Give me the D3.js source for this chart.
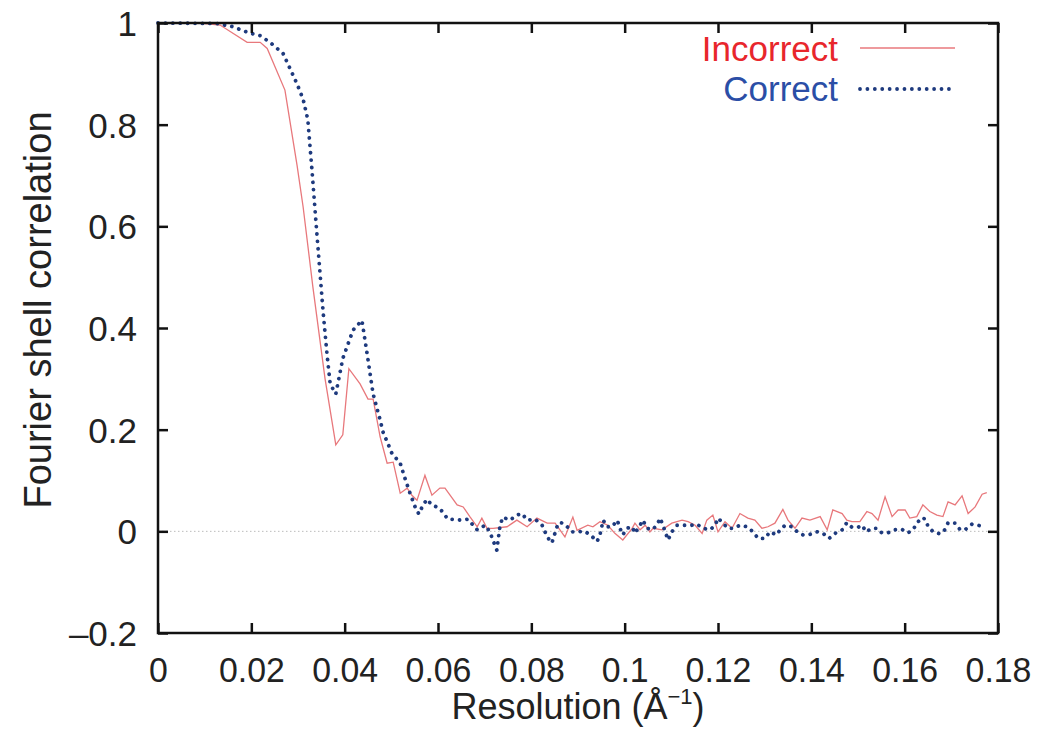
<!DOCTYPE html>
<html><head><meta charset="utf-8">
<script src="https://cdn.jsdelivr.net/npm/d3@7"></script>
<style>
body{margin:0;background:#fff;}
text{font-family:"Liberation Sans", Arial, Helvetica, sans-serif;}
</style>
</head><body>
<svg id="chart" width="1050" height="735"></svg>
<script>
const seriesNames = ["Incorrect", "Correct"];
const xTicks = [0, 0.02, 0.04, 0.06, 0.08, 0.1, 0.12, 0.14, 0.16, 0.18];
const yTicks = [-0.2, 0, 0.2, 0.4, 0.6, 0.8, 1];

const incorrectX = [0, 0.009, 0.0133, 0.0191, 0.0219, 0.0234, 0.0272, 0.0298, 0.0311, 0.0332, 0.0358, 0.0381, 0.0396, 0.0409, 0.0433, 0.045, 0.0461, 0.0476, 0.0491, 0.0504, 0.0519, 0.0534, 0.0544, 0.0555, 0.0572, 0.0587, 0.0604, 0.0615, 0.0641, 0.0654, 0.0669, 0.0684, 0.0694, 0.0705, 0.0718, 0.0748, 0.0769, 0.0791, 0.0812, 0.0834, 0.0851, 0.0872, 0.0889, 0.0898, 0.0921, 0.0932, 0.0947, 0.0964, 0.0979, 0.0996, 0.1016, 0.1022, 0.1033, 0.1044, 0.1054, 0.1061, 0.108, 0.1101, 0.1123, 0.1136, 0.1151, 0.1166, 0.1176, 0.1189, 0.12, 0.1215, 0.123, 0.1247, 0.1264, 0.1279, 0.1294, 0.1307, 0.1322, 0.1339, 0.135, 0.1365, 0.138, 0.1397, 0.1419, 0.1434, 0.1446, 0.1466, 0.1476, 0.1487, 0.1504, 0.1519, 0.153, 0.1543, 0.1558, 0.1573, 0.1586, 0.1601, 0.1611, 0.1626, 0.1639, 0.1654, 0.1669, 0.1682, 0.1693, 0.1708, 0.1723, 0.1736, 0.1751, 0.1766, 0.1776];
const incorrectY = [1.0, 1.0, 0.996, 0.962, 0.962, 0.95, 0.868, 0.72, 0.638, 0.48, 0.30, 0.17, 0.19, 0.32, 0.29, 0.26, 0.26, 0.186, 0.134, 0.136, 0.075, 0.085, 0.071, 0.061, 0.11, 0.071, 0.085, 0.085, 0.052, 0.048, 0.028, 0.009, 0.026, 0.006, 0.006, 0.009, 0.022, 0.009, 0.026, 0.016, 0.016, -0.011, 0.028, 0.002, 0.012, 0.009, 0.019, 0.012, -0.004, -0.017, 0.006, 0.016, 0.003, 0.012, -0.001, 0.006, 0.003, 0.016, 0.022, 0.019, 0.012, -0.004, 0.022, 0.032, -0.001, 0.019, 0.006, 0.035, 0.026, 0.022, 0.006, 0.009, 0.016, 0.043, 0.022, 0.006, 0.026, 0.022, 0.029, 0.003, 0.042, 0.035, 0.022, 0.019, 0.019, 0.039, 0.035, 0.022, 0.068, 0.029, 0.042, 0.042, 0.026, 0.029, 0.052, 0.039, 0.032, 0.029, 0.058, 0.052, 0.07, 0.035, 0.048, 0.073, 0.076];

const correctX = [0, 0.0126, 0.0159, 0.0197, 0.0219, 0.024, 0.0268, 0.0298, 0.0311, 0.0321, 0.033, 0.0341, 0.0354, 0.0362, 0.0369, 0.0381, 0.0396, 0.0418, 0.0437, 0.0448, 0.0461, 0.0476, 0.0482, 0.0501, 0.0519, 0.0529, 0.054, 0.0551, 0.0559, 0.0566, 0.0576, 0.0587, 0.0604, 0.0621, 0.0651, 0.0664, 0.0684, 0.0701, 0.0711, 0.0726, 0.0733, 0.0739, 0.0754, 0.0769, 0.078, 0.0791, 0.0808, 0.0823, 0.0834, 0.0844, 0.0855, 0.0861, 0.0872, 0.0887, 0.0898, 0.0915, 0.093, 0.0941, 0.0947, 0.0954, 0.0962, 0.0973, 0.0984, 0.099, 0.0996, 0.1005, 0.1016, 0.1022, 0.1033, 0.1039, 0.1048, 0.1059, 0.1069, 0.1076, 0.1082, 0.1093, 0.1101, 0.1112, 0.1129, 0.1144, 0.1155, 0.1168, 0.1183, 0.1194, 0.12, 0.1211, 0.1221, 0.1232, 0.1247, 0.1262, 0.1275, 0.1286, 0.1301, 0.1311, 0.1326, 0.1333, 0.1344, 0.1359, 0.137, 0.1382, 0.1397, 0.1412, 0.1425, 0.1438, 0.1451, 0.1466, 0.1476, 0.1487, 0.15, 0.1509, 0.1517, 0.153, 0.1541, 0.1551, 0.1564, 0.1579, 0.1594, 0.1607, 0.1618, 0.1626, 0.1637, 0.1644, 0.165, 0.1661, 0.1676, 0.1686, 0.1693, 0.1708, 0.1719, 0.1729, 0.1744, 0.1757, 0.1772];
const correctY = [1.0, 0.999, 0.993, 0.98, 0.975, 0.962, 0.94, 0.88, 0.85, 0.81, 0.71, 0.579, 0.43, 0.35, 0.29, 0.27, 0.34, 0.396, 0.415, 0.35, 0.27, 0.219, 0.196, 0.154, 0.134, 0.105, 0.075, 0.048, 0.034, 0.048, 0.063, 0.052, 0.045, 0.024, 0.022, 0.024, 0.003, 0.012, -0.001, -0.037, 0.012, 0.028, 0.022, 0.032, 0.035, 0.022, 0.024, 0.012, -0.011, -0.023, 0.009, 0.018, 0.014, -0.001, -0.001, 0, -0.01, -0.02, -0.007, 0.022, 0.009, 0.009, 0.022, 0.006, -0.007, 0.006, 0.009, -0.004, 0.012, 0.022, 0.006, 0.003, 0.012, 0.026, 0.012, -0.017, -0.001, 0.012, 0.012, 0.012, 0.014, 0.006, 0.003, 0.012, 0.026, 0.016, 0.006, 0.006, 0.012, 0.009, -0.001, -0.014, -0.014, -0.001, -0.007, 0.003, 0.012, 0.009, -0.001, -0.007, -0.006, -0.001, -0.004, -0.014, -0.004, 0.003, 0.017, 0.008, 0.008, 0.012, -0.001, 0.006, 0.006, -0.003, -0.003, 0.003, 0.004, -0.003, 0.003, 0.016, 0.027, 0.024, 0.01, -0.001, -0.005, 0.003, 0.017, 0.016, 0.003, 0.003, 0.014, 0.012, 0.009];

const svg = d3.select("#chart");
const L = 158, R = 998, T = 23, B = 633;
const x = d3.scaleLinear().domain([0, 0.18]).range([L, R]);
const y = d3.scaleLinear().domain([-0.2, 1]).range([B, T]);

const redColor = "#e8787c", blueColor = "#1e3a7e";
const dotDash = "0.01 7.4";

// zero reference line
svg.append("line").attr("x1", x(0)).attr("x2", x(0.18)).attr("y1", y(0)).attr("y2", y(0))
  .attr("stroke", "#bbbbbb").attr("stroke-width", 1).attr("stroke-dasharray", "1.5 2.5");

const incorrect = incorrectX.map((v, i) => [v, incorrectY[i]]);
const correct = correctX.map((v, i) => [v, correctY[i]]);
const line = d3.line().x(d => x(d[0])).y(d => y(d[1]));

svg.append("path").datum(incorrect).attr("d", line)
  .attr("fill", "none").attr("stroke", redColor).attr("stroke-width", 1.3);
svg.append("path").datum(correct).attr("d", line)
  .attr("fill", "none").attr("stroke", blueColor).attr("stroke-width", 3.8)
  .attr("stroke-linecap", "round").attr("stroke-dasharray", dotDash);

// axes
const fmtY = d => d < 0 ? "\u2013" + Math.abs(d) : String(d);
const tick = 10;
const gx = svg.append("g").attr("transform", `translate(0,${B})`)
  .call(d3.axisBottom(x).tickValues(xTicks).tickSizeInner(-tick).tickSizeOuter(0).tickPadding(0).tickFormat(d => String(d)));
gx.selectAll("text").attr("y", 49).attr("dy", 0).attr("font-size", 36).attr("fill", "#222")
  .attr("transform", "scale(0.94,1)").attr("x", 0);
const gy = svg.append("g").attr("transform", `translate(${L},0)`)
  .call(d3.axisLeft(y).tickValues(yTicks).tickSizeInner(-tick).tickSizeOuter(0).tickFormat(fmtY));
gy.selectAll("text").attr("x", -21).attr("dy", "0.36em").attr("font-size", 35).attr("fill", "#222");
const gt = svg.append("g").attr("transform", `translate(0,${T})`)
  .call(d3.axisTop(x).tickValues(xTicks).tickSizeInner(-tick).tickSizeOuter(0).tickFormat(""));
const gr = svg.append("g").attr("transform", `translate(${R},0)`)
  .call(d3.axisRight(y).tickValues(yTicks).tickSizeInner(-tick).tickSizeOuter(0).tickFormat(""));
[gx, gy, gt, gr].forEach(g => {
  g.select(".domain").remove();
  g.selectAll("line").attr("stroke", "#111").attr("stroke-width", 2.5);
});
svg.append("rect").attr("x", L).attr("y", T).attr("width", R - L).attr("height", B - T)
  .attr("fill", "none").attr("stroke", "#111").attr("stroke-width", 2.5);

// axis titles
const xt = svg.append("text").attr("transform", `translate(${(L + R) / 2},719)`)
  .attr("text-anchor", "middle").attr("font-size", 36).attr("fill", "#222");
xt.append("tspan").text("Resolution (\u00C5");
xt.append("tspan").text("\u22121").attr("font-size", 22).attr("dy", -15);
xt.append("tspan").text(")").attr("dy", 15);

svg.append("text").attr("transform", `translate(51,310) rotate(-90)`)
  .attr("text-anchor", "middle").attr("font-size", 38).attr("fill", "#222")
  .text("Fourier shell correlation");

// legend
const legend = [
  {name: seriesNames[0], color: "#e8262c", stroke: redColor, width: 1.3, dash: null, ty: 61, ly: 48},
  {name: seriesNames[1], color: "#2b4ea6", stroke: blueColor, width: 3.8, dash: dotDash, ty: 101, ly: 89}
];
legend.forEach(d => {
  svg.append("text").attr("x", 838).attr("y", d.ty).attr("text-anchor", "end")
    .attr("font-size", 35).attr("fill", d.color).text(d.name);
  const ln = svg.append("line").attr("x1", 860).attr("x2", 955).attr("y1", d.ly).attr("y2", d.ly)
    .attr("stroke", d.stroke).attr("stroke-width", d.width);
  if (d.dash) ln.attr("stroke-dasharray", d.dash).attr("stroke-linecap", "round");
});
</script>
</body></html>
